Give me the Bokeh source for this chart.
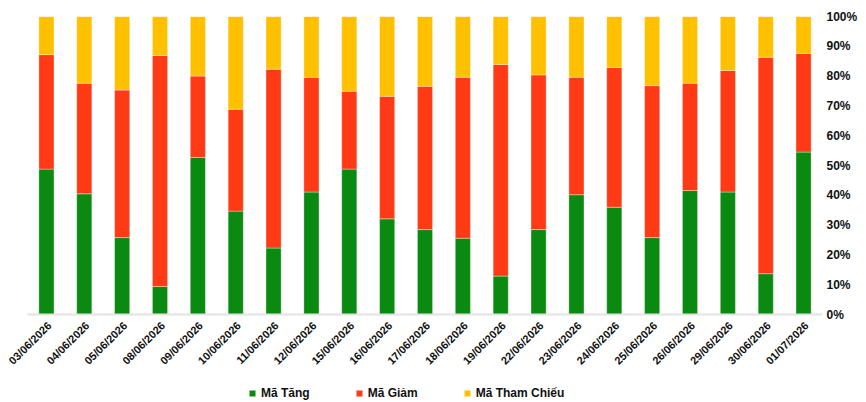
from bokeh.plotting import figure
from bokeh.models import Range1d, FixedTicker, PrintfTickFormatter, Legend, LegendItem
from bokeh.core.properties import value
from bokeh.embed import file_html
from bokeh.resources import INLINE
import math

dates = ["03/06/2026", "04/06/2026", "05/06/2026", "08/06/2026", "09/06/2026", "10/06/2026",
         "11/06/2026", "12/06/2026", "15/06/2026", "16/06/2026", "17/06/2026", "18/06/2026",
         "19/06/2026", "22/06/2026", "23/06/2026", "24/06/2026", "25/06/2026", "26/06/2026",
         "29/06/2026", "30/06/2026", "01/07/2026"]
ma_tang = [48.8, 40.5, 25.8, 9.4, 52.7, 34.7, 22.3, 41.1, 48.8, 32.1, 28.5, 25.6,
           12.9, 28.5, 40.2, 36.0, 25.8, 41.6, 41.1, 13.7, 54.5]
ma_giam = [38.4, 37.1, 49.5, 77.5, 27.3, 34.2, 60.0, 38.5, 26.1, 41.1, 48.1, 54.0,
           71.0, 51.9, 39.4, 46.9, 51.0, 36.0, 40.8, 72.6, 33.1]
ma_tham_chieu = [round(100 - a - b, 1) for a, b in zip(ma_tang, ma_giam)]
series = ["Mã Tăng", "Mã Giảm", "Mã Tham Chiếu"]
colors = ["#0B8A12", "#FF3A14", "#FFC000"]
yticks = list(range(0, 101, 10))

n = len(dates)
idx = list(range(n))
data = {"x": idx, "date": dates, "Mã Tăng": ma_tang, "Mã Giảm": ma_giam, "Mã Tham Chiếu": ma_tham_chieu}

# frame spans x 0..822 px and y 16..402 px; the bar area is 795 x 298 px at its top-right
frame_w, bar_w_px = 822, 795
frame_h, bar_h_px = 402 - 16, 298
cat_px = bar_w_px / n
x_lo = -0.5 - (frame_w - bar_w_px) / cat_px
y_lo = -100 * (frame_h - bar_h_px) / bar_h_px

p = figure(width=866, height=402, x_range=Range1d(x_lo, n - 0.5),
           y_range=Range1d(y_lo, 100), output_backend="svg", toolbar_location=None,
           y_axis_location="right", x_axis_location=None,
           min_border_top=16, min_border_left=0, min_border_right=44, min_border_bottom=0)
p.outline_line_color = None
p.xgrid.grid_line_color = None
p.ygrid.grid_line_color = None

renderers = p.vbar_stack(series, x="x", width=0.4, color=colors, source=data,
                         line_color="white", line_alpha=0.35, line_width=1)

# category axis line at 0%
p.segment(x0=[-0.5], y0=[0], x1=[n - 0.5], y1=[0], line_color="#E3E3E3", line_width=2)

# rotated date labels
p.text(x=idx, y=[0] * n, text=dates, angle=math.pi / 4,
       text_align="right", text_baseline="middle", x_offset=3, y_offset=9,
       text_font=value("Liberation Sans"), text_font_style="bold",
       text_font_size="11px", text_color="#111111")

yax = p.yaxis[0]
yax.ticker = FixedTicker(ticks=yticks)
yax.formatter = PrintfTickFormatter(format="%d%%")
yax.axis_line_color = None
yax.major_tick_line_color = None
yax.minor_tick_line_color = None
yax.major_tick_out = 0
yax.major_tick_in = 0
yax.major_label_text_font = "Liberation Sans"
yax.major_label_text_font_style = "bold"
yax.major_label_text_font_size = "12px"
yax.major_label_text_color = "#111111"
yax.major_label_standoff = 4

legend = Legend(items=[LegendItem(label=s, renderers=[r]) for s, r in zip(series, renderers)],
                orientation="horizontal", location=(248, 2))
legend.label_text_font = "Liberation Sans"
legend.label_text_font_style = "bold"
legend.label_text_font_size = "12px"
legend.label_text_color = "#111111"
legend.label_standoff = 5
legend.label_height = 12
legend.glyph_width = 8
legend.glyph_height = 8
legend.spacing = 45
legend.border_line_color = None
legend.background_fill_alpha = 0
legend.padding = 0
legend.margin = 0
p.add_layout(legend, "center")

open("out.html", "w").write(file_html(p, INLINE))
